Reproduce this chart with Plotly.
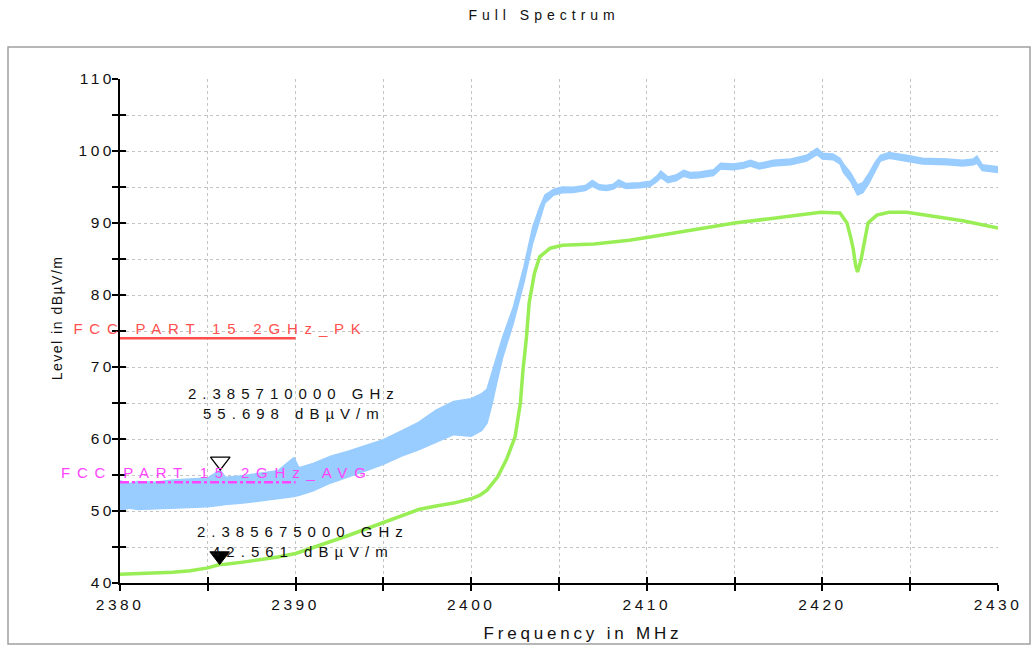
import json
import plotly.graph_objects as go

# Peak detector trace: upper and lower envelope of the noisy sweep (dBµV/m)
freq_pk = [2380.0, 2380.5, 2381.0, 2382.0, 2383.0, 2384.0, 2385.0, 2385.71, 2386.0,
           2387.0, 2388.0, 2389.0, 2389.9, 2390.2, 2391.0, 2392.0, 2393.0, 2394.0,
           2395.0, 2396.0, 2397.0, 2398.0, 2399.0, 2400.0, 2400.6, 2400.9, 2401.2,
           2401.45, 2401.8, 2402.4, 2403.0, 2403.5, 2403.9, 2404.2, 2404.7, 2405.2,
           2405.8, 2406.5, 2406.9, 2407.3, 2407.7, 2408.1, 2408.4, 2408.8, 2409.6,
           2410.2, 2410.6, 2410.8, 2411.2, 2411.7, 2412.1, 2412.5, 2413.0, 2413.8,
           2414.2, 2414.9, 2415.5, 2415.9, 2416.4, 2417.2, 2418.2, 2419.1, 2419.7,
           2420.0, 2420.6, 2421.0, 2421.2, 2421.6, 2422.0, 2422.3, 2422.6, 2423.0,
           2423.3, 2423.8, 2424.8, 2425.7, 2427.1, 2428.0, 2428.6, 2428.8, 2429.1,
           2430.0]
pk_hi = [54.2, 53.8, 54.1, 54.0, 54.3, 54.4, 54.6, 55.698, 54.7,
         54.9, 55.2, 55.6, 57.4, 56.0, 56.6, 57.6, 58.3, 59.1,
         59.9, 61.1, 62.3, 64.0, 65.2, 65.6, 66.3, 66.9, 69.2,
         71.4, 74.2, 78.3, 83.9, 89.4, 92.2, 93.9, 94.7, 95.0,
         94.95, 95.2, 95.9, 95.3, 95.2, 95.4, 96.0, 95.5, 95.6,
         95.8, 96.6, 97.2, 96.4, 96.7, 97.3, 97.0, 97.1, 97.4,
         98.3, 98.2, 98.4, 98.7, 98.3, 98.7, 98.9, 99.4, 100.4,
         99.7, 99.6, 99.0, 98.2, 97.0, 95.3, 95.6, 96.7, 98.4,
         99.4, 99.8, 99.4, 99.0, 98.9, 98.7, 98.9, 99.3, 98.1,
         97.8]
pk_lo = [50.0, 50.4, 50.2, 50.3, 50.4, 50.5, 50.6, 50.8, 50.9,
         51.1, 51.4, 51.7, 52.0, 52.2, 52.8, 53.9, 54.7, 55.6,
         56.5, 57.6, 58.5, 59.6, 60.6, 60.4, 61.2, 62.2, 65.0,
         67.8, 71.4, 76.1, 81.7, 87.2, 90.4, 92.8, 93.9, 94.2,
         94.25, 94.5, 95.1, 94.6, 94.5, 94.7, 95.2, 94.8, 94.9,
         95.1, 95.8, 96.3, 95.6, 95.9, 96.5, 96.2, 96.3, 96.6,
         97.5, 97.4, 97.6, 97.9, 97.5, 97.9, 98.1, 98.6, 99.5,
         98.9, 98.8, 98.2, 97.0, 95.8, 93.9, 94.2, 95.3, 97.2,
         98.6, 99.0, 98.6, 98.2, 98.1, 97.9, 98.1, 98.3, 97.3,
         97.0]

# Average detector trace (dBµV/m)
freq_av = [2380.0, 2381.0, 2382.0, 2383.0, 2384.0, 2385.0, 2385.675, 2386.0, 2387.0,
           2388.0, 2389.0, 2390.0, 2391.0, 2392.0, 2393.0, 2394.0, 2395.0, 2396.0,
           2397.0, 2398.0, 2399.0, 2400.0, 2400.5, 2400.9, 2401.5, 2402.0, 2402.5,
           2402.8, 2402.95, 2403.15, 2403.3, 2403.6, 2403.9, 2404.5, 2405.2, 2407.0,
           2409.0, 2410.0, 2412.0, 2414.0, 2415.0, 2417.0, 2418.5, 2419.9, 2421.0,
           2421.4, 2421.6, 2421.75, 2421.9, 2422.0, 2422.2, 2422.4, 2422.6, 2423.1,
           2423.8, 2424.8, 2426.1, 2428.0, 2430.0]
av_level = [41.2, 41.3, 41.3, 41.5, 41.7, 42.1, 42.561, 42.6, 42.9,
            43.2, 43.6, 44.1, 44.9, 45.7, 46.6, 47.5, 48.4, 49.4,
            50.2, 50.7, 51.1, 51.7, 52.2, 52.9, 54.7, 57.1, 60.3,
            65.0, 69.6, 74.2, 78.9, 83.0, 85.3, 86.5, 86.9, 87.1,
            87.6, 88.0, 88.8, 89.5, 90.0, 90.6, 91.1, 91.5, 91.4,
            90.0, 88.1, 86.5, 84.0, 83.2, 84.9, 87.6, 90.0, 91.1,
            91.5, 91.5, 91.0, 90.3, 89.3]

# Limit lines
limit_freq = [2380, 2390]
limit_pk = [74, 74]
limit_av = [54, 54]
limit_pk_name = "FCC PART 15 2GHz_PK"
limit_av_name = "FCC PART 15 2GHz_AVG"

# Markers
mk_pk_freq, mk_pk_level = 2385.71, 55.698
mk_av_freq, mk_av_level = 2385.675, 42.561

# Axis ticks
x_tickvals = [2380, 2385, 2390, 2395, 2400, 2405, 2410, 2415, 2420, 2425, 2430]
x_ticktext = ["2380", "", "2390", "", "2400", "", "2410", "", "2420", "", "2430"]
y_tickvals = [40, 45, 50, 55, 60, 65, 70, 75, 80, 85, 90, 95, 100, 105, 110]
y_ticktext = ["40", "", "50", "", "60", "", "70", "", "80", "", "90", "", "100", "", "110"]

FONT = "Liberation Sans, Arial, sans-serif"
INK = "#111111"
BLUE = "#99ccff"
GREEN = "#99ee55"

fig = go.Figure()

# peak band
fig.add_trace(go.Scatter(x=freq_pk, y=pk_hi, mode="lines",
                         line=dict(color=BLUE, width=1.5), hoverinfo="skip",
                         showlegend=False))
fig.add_trace(go.Scatter(x=freq_pk, y=pk_lo, mode="lines", fill="tonexty",
                         fillcolor=BLUE, line=dict(color=BLUE, width=1.5),
                         hoverinfo="skip", showlegend=False))
# average trace
fig.add_trace(go.Scatter(x=freq_av, y=av_level, mode="lines",
                         line=dict(color=GREEN, width=3.5), hoverinfo="skip",
                         showlegend=False))

# limit lines and markers on the overlay axes (drawn on top)
fig.add_trace(go.Scatter(x=limit_freq, y=limit_pk, mode="lines", xaxis="x2", yaxis="y2",
                         line=dict(color="#ff4d4d", width=2.5), showlegend=False))
fig.add_trace(go.Scatter(x=limit_freq, y=limit_av, mode="lines", xaxis="x2", yaxis="y2",
                         line=dict(color="#ff44ff", width=2.5, dash="dashdot"),
                         showlegend=False))
# marker triangles point down with their tip on the marked level
fig.add_trace(go.Scatter(x=[mk_pk_freq], y=[mk_pk_level], mode="markers",
                         xaxis="x2", yaxis="y2",
                         marker=dict(symbol="triangle-up-open", size=17, color="black",
                                     line=dict(color="black", width=1.3),
                                     angle=180, standoff=8.5),
                         showlegend=False))
fig.add_trace(go.Scatter(x=[mk_av_freq], y=[mk_av_level], mode="markers",
                         xaxis="x2", yaxis="y2",
                         marker=dict(symbol="triangle-up", size=17, color="black",
                                     line=dict(color="black", width=1),
                                     angle=180, standoff=8.5),
                         showlegend=False))

axis_common = dict(showline=True, linecolor="black", linewidth=2,
                   ticks="outside", ticklen=6, tickwidth=2, tickcolor="black",
                   showgrid=True, gridcolor="#c4c4c4", gridwidth=1, griddash="dot",
                   zeroline=False, tickfont=dict(family=FONT, size=15.5, color=INK))
overlay_common = dict(showline=False, ticks="inside", ticklen=6, tickwidth=2,
                      tickcolor="black", showgrid=False, zeroline=False,
                      showticklabels=False)

fig.update_layout(
    width=1035, height=646,
    margin=dict(l=120, r=37, t=79, b=63),
    paper_bgcolor="white", plot_bgcolor="white",
    font=dict(family=FONT, color=INK),
    title=dict(text="Full Spectrum", x=0.483, xref="paper", xanchor="center",
               y=1 - 15 / 646, yref="container", yanchor="middle",
               font=dict(family=FONT, size=14, color=INK)),
    xaxis=dict(range=[2380, 2430], tickvals=x_tickvals, ticktext=x_ticktext,
               **axis_common),
    yaxis=dict(range=[40, 110], tickvals=y_tickvals, ticktext=y_ticktext,
               ticklabelstandoff=-6, **axis_common),
    xaxis2=dict(range=[2380, 2430], tickvals=x_tickvals, overlaying="x",
                anchor="y2", side="bottom", **overlay_common),
    yaxis2=dict(range=[40, 110], tickvals=y_tickvals, overlaying="y",
                anchor="x2", side="left", **overlay_common),
    showlegend=False,
)

# outer frame
fig.add_shape(type="rect", xref="paper", yref="paper",
              x0=(8 - 120) / 878, x1=(1030 - 120) / 878,
              y0=(583 - 644) / 504, y1=(583 - 47) / 504,
              line=dict(color="#a0a0a0", width=1.5), layer="below")

ann = [
    dict(text="Frequency in MHz", xref="paper", yref="paper", x=(583 - 120) / 878,
         y=(583 - 633) / 504, font=dict(size=17)),
    dict(text="Level in dBµV/m", xref="paper", yref="paper", x=(57 - 120) / 878,
         y=(583 - 318) / 504, textangle=-90, font=dict(size=14)),
    dict(text=limit_pk_name, xref="x", yref="y", x=2385.75, y=75.3,
         font=dict(size=15, color="#ff5050")),
    dict(text=limit_av_name, xref="x", yref="y", x=2385.5, y=55.3,
         font=dict(size=15, color="#ff44ff")),
    dict(text="2.385710000 GHz<br>%.3f dBµV/m" % mk_pk_level, xref="x", yref="y",
         x=2389.9, y=65.0, font=dict(size=15, color=INK)),
    dict(text="2.385675000 GHz<br>%.3f dBµV/m" % mk_av_level, xref="x", yref="y",
         x=2390.4, y=45.7, font=dict(size=15, color=INK)),
]
spacing = [3.8, 1.5, 6.8, 6.8, 6.0, 6.0]
for a in ann:
    a.update(showarrow=False, xanchor="center", yanchor="middle")
    a["font"].setdefault("color", INK)
    a["font"]["family"] = FONT
fig.update_layout(annotations=ann)

css = ".gtitle{letter-spacing:5px}.xtick text,.ytick text{letter-spacing:3.5px}"
css += "".join('g.annotation[data-index="%d"] text{letter-spacing:%spx}' % (i, s)
               for i, s in enumerate(spacing))
post = "var s=document.createElement('style');s.textContent=%s;document.head.appendChild(s);" % json.dumps(css)

fig.write_html("out.html", post_script=post)
